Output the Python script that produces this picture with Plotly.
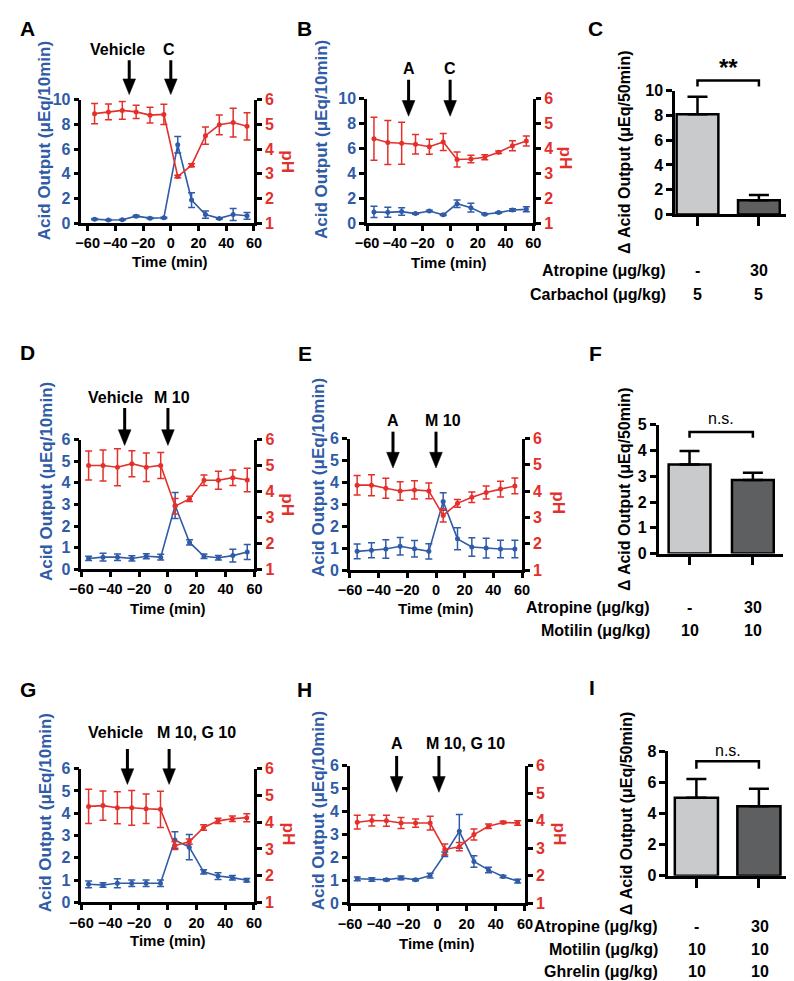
import plotly.graph_objects as go

W, H = 794, 981
BLUE = "#2F5BA7"
RED = "#E3302B"
LIGHT = "#C9CACC"
DARK = "#5E5F61"
FONT = "Liberation Sans"

# ---------------- data ----------------
time_min = [-55, -45, -35, -25, -15, -5, 5, 15, 25, 35, 45, 55]
x_ticks = [-60, -40, -20, 0, 20, 40, 60]

a_acid = [0.34, 0.27, 0.29, 0.58, 0.42, 0.45, 6.35, 1.88, 0.71, 0.40, 0.71, 0.61]
a_acid_err = [0.05, 0.05, 0.05, 0.07, 0.05, 0.05, 0.66, 0.60, 0.29, 0.06, 0.48, 0.27]
a_ph = [5.43, 5.50, 5.56, 5.50, 5.37, 5.40, 2.89, 3.35, 4.54, 4.98, 5.07, 4.92]
a_ph_err = [0.41, 0.32, 0.36, 0.27, 0.32, 0.41, 0.05, 0.06, 0.35, 0.40, 0.58, 0.55]

b_acid = [0.91, 0.88, 0.94, 0.78, 0.99, 0.68, 1.57, 1.25, 0.73, 0.86, 1.07, 1.12]
b_acid_err = [0.45, 0.40, 0.30, 0.05, 0.05, 0.05, 0.30, 0.35, 0.05, 0.05, 0.10, 0.20]
b_ph = [4.39, 4.24, 4.21, 4.17, 4.07, 4.26, 3.56, 3.58, 3.65, 3.85, 4.11, 4.30]
b_ph_err = [0.86, 0.88, 0.84, 0.39, 0.30, 0.34, 0.30, 0.15, 0.10, 0.05, 0.20, 0.20]

d_acid = [0.50, 0.56, 0.56, 0.50, 0.60, 0.56, 2.95, 1.24, 0.60, 0.53, 0.63, 0.80]
d_acid_err = [0.10, 0.18, 0.15, 0.12, 0.12, 0.13, 0.60, 0.12, 0.10, 0.10, 0.30, 0.35]
d_ph = [5.00, 5.00, 4.93, 5.07, 4.93, 5.00, 3.43, 3.71, 4.43, 4.43, 4.53, 4.44]
d_ph_err = [0.56, 0.60, 0.71, 0.50, 0.55, 0.50, 0.30, 0.10, 0.20, 0.35, 0.30, 0.45]

e_acid = [0.86, 0.91, 0.97, 1.09, 0.98, 0.86, 3.13, 1.43, 1.06, 1.01, 0.97, 0.97]
e_acid_err = [0.34, 0.34, 0.42, 0.40, 0.38, 0.35, 0.40, 0.50, 0.42, 0.45, 0.40, 0.40]
e_ph = [4.23, 4.23, 4.11, 4.01, 4.05, 4.01, 3.08, 3.54, 3.77, 3.95, 4.08, 4.20]
e_ph_err = [0.37, 0.40, 0.38, 0.35, 0.35, 0.30, 0.25, 0.15, 0.20, 0.25, 0.30, 0.30]

g_acid = [0.81, 0.78, 0.86, 0.86, 0.86, 0.86, 2.80, 2.48, 1.37, 1.18, 1.11, 0.99]
g_acid_err = [0.15, 0.10, 0.20, 0.15, 0.15, 0.15, 0.37, 0.57, 0.10, 0.15, 0.10, 0.08]
g_ph = [4.59, 4.62, 4.54, 4.54, 4.50, 4.48, 3.13, 3.27, 3.80, 4.05, 4.13, 4.17]
g_ph_err = [0.64, 0.55, 0.60, 0.65, 0.55, 0.68, 0.15, 0.10, 0.10, 0.10, 0.10, 0.15]

h_acid = [1.07, 1.04, 1.03, 1.11, 1.03, 1.21, 2.14, 3.14, 1.83, 1.46, 1.17, 0.97]
h_acid_err = [0.08, 0.08, 0.04, 0.08, 0.04, 0.10, 0.10, 0.74, 0.25, 0.12, 0.05, 0.08]
h_ph = [3.95, 4.01, 4.00, 3.92, 3.92, 3.92, 2.96, 3.06, 3.50, 3.80, 3.94, 3.92]
h_ph_err = [0.25, 0.20, 0.20, 0.20, 0.15, 0.25, 0.20, 0.15, 0.20, 0.08, 0.04, 0.08]

c_vals = [8.10, 1.16]
c_errs = [1.40, 0.42]
f_vals = [3.46, 2.86]
f_errs = [0.52, 0.28]
i_vals = [5.01, 4.46]
i_errs = [1.20, 1.12]

# arrows: (time of arrow, label)
a_arrows = [(-30, "Vehicle"), (0, "C")]
b_arrows = [(-30, "A"), (0, "C")]
d_arrows = [(-30, "Vehicle"), (0, "M 10")]
e_arrows = [(-30, "A"), (0, "M 10")]
g_arrows = [(-28, "Vehicle"), (1, "M 10, G 10")]
h_arrows = [(-28, "A"), (1, "M 10, G 10")]

c_table = [("Atropine (μg/kg)", ["-", "30"]), ("Carbachol (μg/kg)", ["5", "5"])]
f_table = [("Atropine (μg/kg)", ["-", "30"]), ("Motilin (μg/kg)", ["10", "10"])]
i_table = [("Atropine (μg/kg)", ["-", "30"]), ("Motilin (μg/kg)", ["10", "10"]),
           ("Ghrelin (μg/kg)", ["10", "10"])]

# ---------------- layout geometry ----------------
def xd(x0, x1):
    return [x0 / W, x1 / W]

def yd(top, bot):
    return [1 - bot / H, 1 - top / H]

def py(px):
    return 1 - px / H

def px_x(px):
    return px / W

time_panels = [
    dict(L="A", acid=a_acid, ae=a_acid_err, ph=a_ph, pe=a_ph_err, arrows=a_arrows,
         xpx=(63, 240), xr=(-64.5, 60), ypx=(85, 211), amax=10, adt=2,
         letter=(8, 13), arr=(45, 80), txt_y=34, txt_x=[100, 153],
         ytitle=(25, 127), phtitle=(274, 148), ttitle=(154, 250)),
    dict(L="B", acid=b_acid, ae=b_acid_err, ph=b_ph, pe=b_ph_err, arrows=b_arrows,
         xpx=(356, 526.5), xr=(-60, 60), ypx=(84, 211), amax=10, adt=2,
         letter=(292, 13), arr=(65, 102), txt_y=53, txt_x=[399, 441],
         ytitle=(310, 126), phtitle=(560, 145), ttitle=(440, 251)),
    dict(L="D", acid=d_acid, ae=d_acid_err, ph=d_ph, pe=d_ph_err, arrows=d_arrows,
         xpx=(63, 240.5), xr=(-60, 60), ypx=(431, 563), amax=6, adt=1,
         letter=(8, 342), arr=(399, 437), txt_y=388, txt_x=[98, 156],
         ytitle=(27, 474), phtitle=(275, 497), ttitle=(152, 603)),
    dict(L="E", acid=e_acid, ae=e_acid_err, ph=e_ph, pe=e_ph_err, arrows=e_arrows,
         xpx=(338.5, 515), xr=(-60, 60), ypx=(430, 564), amax=6, adt=1,
         letter=(292, 343), arr=(423, 460), txt_y=412, txt_x=[383, 434],
         ytitle=(307, 470), phtitle=(553, 495), ttitle=(427, 603)),
    dict(L="G", acid=g_acid, ae=g_acid_err, ph=g_ph, pe=g_ph_err, arrows=g_arrows,
         xpx=(63, 240), xr=(-60, 60), ypx=(766, 902), amax=6, adt=1,
         letter=(8, 685), arr=(746, 782), txt_y=729, txt_x=[98, 181],
         ytitle=(27, 811), phtitle=(275, 832), ttitle=(152, 941)),
    dict(L="H", acid=h_acid, ae=h_acid_err, ph=h_ph, pe=h_ph_err, arrows=h_arrows,
         xpx=(338.5, 518), xr=(-60, 60), ypx=(763, 903), amax=6, adt=1,
         letter=(292, 685), arr=(753, 790), txt_y=740, txt_x=[387, 457],
         ytitle=(307, 809), phtitle=(553, 832), ttitle=(428, 944)),
]

bar_panels = [
    dict(L="C", vals=c_vals, errs=c_errs, table=c_table, sig="**", sigbold=True,
         xpx=(672, 790), xr=(-0.365, 1.508), ypx=(76, 202), ymax=10, ydt=2, bw=0.68,
         letter=(590, 13), brk=(65.7, 71.7), sig_y=52, ytitle=(620, 138),
         tab_right=665, tab_y=[259, 283], tab_x=[695, 758]),
    dict(L="F", vals=f_vals, errs=f_errs, table=f_table, sig="n.s.", sigbold=False,
         xpx=(655, 783), xr=(-0.49, 1.48), ypx=(416, 547), ymax=5, ydt=1, bw=0.66,
         letter=(590, 343), brk=(423.3, 429.3), sig_y=410, ytitle=(620, 481),
         tab_right=648, tab_y=[602, 625], tab_x=[687, 752]),
    dict(L="I", vals=i_vals, errs=i_errs, table=i_table, sig="n.s.", sigbold=False,
         xpx=(665, 792), xr=(-0.45, 1.53), ypx=(748, 875), ymax=8, ydt=2, bw=0.69,
         letter=(587, 683), brk=(758.3, 766), sig_y=747, ytitle=(623, 811),
         tab_right=657, tab_y=[927, 950, 972], tab_x=[694, 759]),
]

fig = go.Figure()
layout = dict(width=W, height=H, margin=dict(l=0, r=0, t=0, b=0),
              paper_bgcolor="white", plot_bgcolor="white", showlegend=False,
              font=dict(family=FONT, size=13, color="black"))
annotations = []
shapes = []

def bfont(size, color="black", bold=True):
    return dict(family=FONT, size=size, color=color, weight="bold" if bold else "normal")

axis_common = dict(showline=True, linecolor="black", linewidth=2.5, ticks="outside",
                   ticklen=5, tickwidth=2.5, tickcolor="black", showgrid=False,
                   zeroline=False, fixedrange=True)

def text(x, y, s, size=13, color="black", bold=True, angle=0, xanchor="center"):
    annotations.append(dict(x=px_x(x), y=py(y), xref="paper", yref="paper", text=s,
                            showarrow=False, font=bfont(size, color, bold),
                            textangle=angle, xanchor=xanchor, yanchor="middle"))

for k, p in enumerate(time_panels, start=1):
    xa = f"x{k}"
    yl = f"y{2 * k - 1}"
    yr = f"y{2 * k}"
    xdom = xd(*p["xpx"])
    ydom = yd(*p["ypx"])
    layout[f"xaxis{k}"] = dict(axis_common, domain=xdom, range=list(p["xr"]), anchor=yl,
                               tickvals=x_ticks, tickfont=bfont(14.5))
    layout[f"yaxis{2 * k - 1}"] = dict(axis_common, domain=ydom, range=[0, p["amax"]],
                                       dtick=p["adt"], tick0=0, anchor=xa,
                                       tickfont=bfont(16, BLUE))
    layout[f"yaxis{2 * k}"] = dict(axis_common, range=[1, 6], dtick=1, tick0=1, anchor=xa,
                                   overlaying=yl, side="right", tickfont=bfont(16, RED))
    fig.add_trace(go.Scatter(x=time_min, y=p["acid"], xaxis=xa, yaxis=yl,
                             mode="lines+markers", cliponaxis=False,
                             line=dict(color=BLUE, width=1.6),
                             marker=dict(color=BLUE, size=5),
                             error_y=dict(type="data", array=p["ae"], color=BLUE,
                                          thickness=1.5, width=3.5)))
    fig.add_trace(go.Scatter(x=time_min, y=p["ph"], xaxis=xa, yaxis=yr,
                             mode="lines+markers", cliponaxis=False,
                             line=dict(color=RED, width=1.6),
                             marker=dict(color=RED, size=5),
                             error_y=dict(type="data", array=p["pe"], color=RED,
                                          thickness=1.5, width=3.5)))
    # texts
    text(*p["letter"], p["L"], size=21)
    text(*p["ytitle"], "Acid Output (μEq/10min)", size=17, color=BLUE, angle=-90)
    text(*p["phtitle"], "pH", size=17, color=RED, angle=90)
    text(*p["ttitle"], "Time (min)", size=15)
    # arrows
    x0px, x1px = p["xpx"]
    ppm = (x1px - x0px) / (p["xr"][1] - p["xr"][0])
    tail, tip = p["arr"]
    head_len = 16
    hw = 6.5 / ppm
    for (t, lab), tx in zip(p["arrows"], p["txt_x"]):
        shapes.append(dict(type="line", xref=xa, yref="paper", x0=t, x1=t,
                           y0=py(tail), y1=py(tip - head_len + 1),
                           line=dict(color="black", width=3)))
        shapes.append(dict(type="path", xref=xa, yref="paper",
                           path=f"M {t - hw},{py(tip - head_len)} L {t + hw},{py(tip - head_len)} "
                                f"L {t},{py(tip)} Z",
                           fillcolor="black", line=dict(color="black", width=0.5)))
        text(tx, p["txt_y"], lab, size=16)

for j, p in enumerate(bar_panels, start=1):
    xa = f"x{6 + j}"
    ya = f"y{12 + j}"
    layout[f"xaxis{6 + j}"] = dict(axis_common, domain=xd(*p["xpx"]), range=list(p["xr"]),
                                   anchor=ya, tickvals=[0, 1], showticklabels=False,
                                   ticklen=9)
    layout[f"yaxis{12 + j}"] = dict(axis_common, domain=yd(*p["ypx"]), range=[0, p["ymax"]],
                                    dtick=p["ydt"], tick0=0, anchor=xa, ticklen=6,
                                    tickfont=bfont(16))
    fig.add_trace(go.Bar(x=[0, 1], y=p["vals"], width=p["bw"], xaxis=xa, yaxis=ya,
                         cliponaxis=False,
                         marker=dict(color=[LIGHT, DARK], line=dict(color="black", width=2.5)),
                         error_y=dict(type="data", symmetric=False, array=p["errs"],
                                      arrayminus=[0, 0], color="black", thickness=2.5,
                                      width=10)))
    text(*p["letter"], p["L"], size=21)
    text(*p["ytitle"], "Δ Acid Output (μEq/50min)", size=16, angle=-90)
    # bracket
    top_b, leg_b = p["brk"]
    shapes.append(dict(type="path", xref=xa, yref="paper",
                       path=f"M 0,{py(leg_b)} L 0,{py(top_b)} L 1,{py(top_b)} L 1,{py(leg_b)}",
                       line=dict(color="black", width=2.5)))
    bx = (p["xpx"][0] + (0.5 - p["xr"][0]) / (p["xr"][1] - p["xr"][0]) * (p["xpx"][1] - p["xpx"][0]))
    text(bx, p["sig_y"], p["sig"], size=24 if p["sigbold"] else 16, bold=p["sigbold"])
    # table
    for (lab, cells), ty in zip(p["table"], p["tab_y"]):
        annotations.append(dict(x=px_x(p["tab_right"]), y=py(ty), xref="paper", yref="paper",
                                text=lab, showarrow=False, font=bfont(16),
                                xanchor="right", yanchor="middle"))
        for c, tx in zip(cells, p["tab_x"]):
            text(tx, ty, c, size=16)

layout["annotations"] = annotations
layout["shapes"] = shapes
fig.update_layout(**layout)
fig.write_html("out.html")
